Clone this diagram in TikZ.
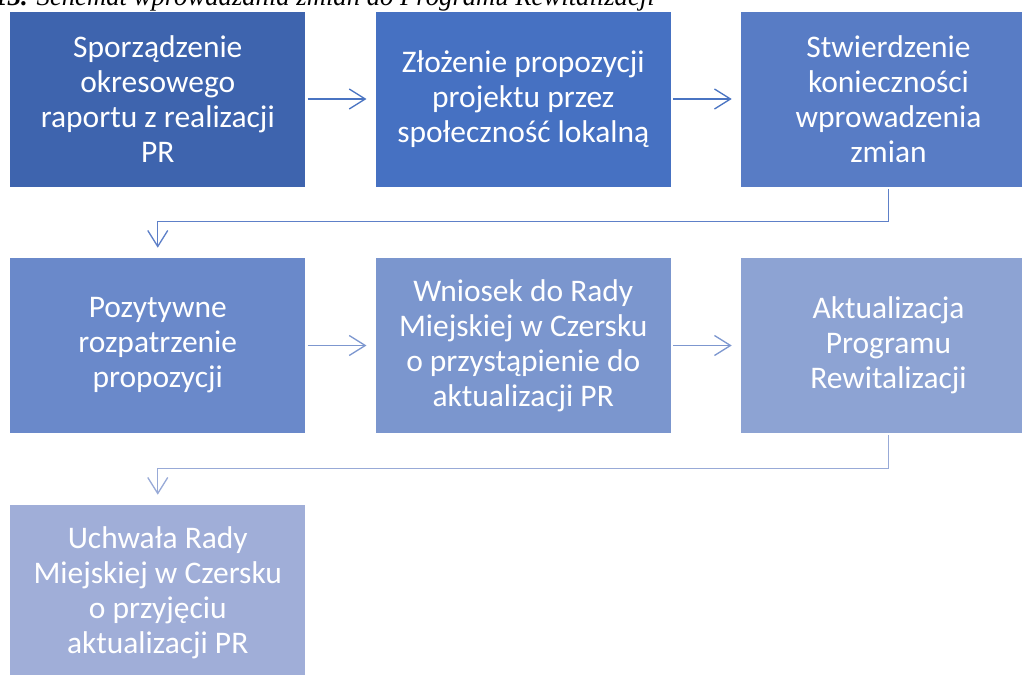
\documentclass[tikz,border=0pt]{standalone}
\usepackage{fontspec}
\setmainfont{Carlito}
\newfontfamily\titlefont{Liberation Serif}
\usetikzlibrary{arrows.meta}
\definecolor{bA}{HTML}{3E64AE}
\definecolor{bB}{HTML}{4671C2}
\definecolor{bC}{HTML}{587CC5}
\definecolor{bD}{HTML}{6A89CA}
\definecolor{bE}{HTML}{7B96CE}
\definecolor{bF}{HTML}{8DA3D3}
\definecolor{bG}{HTML}{A0AED8}
\definecolor{cA}{HTML}{4A74C2}
\definecolor{cB}{HTML}{5E80C8}
\definecolor{cC}{HTML}{7D97CF}
\definecolor{cD}{HTML}{98AAD7}
\begin{document}
\begin{tikzpicture}[x=0.75pt,y=-0.75pt,
  box/.style={minimum width=221.25pt, minimum height=131.25pt, inner sep=0pt,
    align=center, text=white, font=\fontsize{23.6}{26.2}\selectfont, draw=none},
  conn/.style={line width=1pt, -{Straight Barb[length=12pt,width=15pt,line width=1pt]}},
  hconn/.style={conn, shorten <=1.5pt, shorten >=6.75pt},
  vconn/.style={conn, shorten <=1.5pt, shorten >=7.5pt}]
\useasboundingbox (0,0) rectangle (1022,675);
\node[anchor=base east, inner sep=0pt, font=\titlefont\itshape\fontsize{20}{24}\selectfont] (title) at (655,5)
  {\textbf{13.} Schemat wprowadzania zmian do Programu Rewitalizacji};
\node[box, fill=bA] (b1) at (157.75,99) {Sporządzenie\\okresowego\\raportu z realizacji\\PR};
\node[box, fill=bB] (b2) at (523.25,99) {Złożenie propozycji\\projektu przez\\społeczność lokalną};
\node[box, fill=bC] (b3) at (888.5,99) {Stwierdzenie\\konieczności\\wprowadzenia\\zmian};
\node[box, fill=bD] (b4) at (157.75,345.5) {Pozytywne\\rozpatrzenie\\propozycji};
\node[box, fill=bE] (b5) at (523.25,345.5) {Wniosek do Rady\\Miejskiej w Czersku\\o przystąpienie do\\aktualizacji PR};
\node[box, fill=bF] (b6) at (888.5,345.5) {Aktualizacja\\Programu\\Rewitalizacji};
\node[box, fill=bG] (b7) at (157.75,592.5) {Uchwała Rady\\Miejskiej w Czersku\\o przyjęciu\\aktualizacji PR};
\draw[hconn, cA] (b1) -- (b2);
\draw[hconn, cA] (b2) -- (b3);
\draw[vconn, cB] (b3.south) -- ++(0,35) -| (b4.north);
\draw[hconn, cC] (b4) -- (b5);
\draw[hconn, cC] (b5) -- (b6);
\draw[vconn, cD] (b6.south) -- ++(0,35) -| (b7.north);
\end{tikzpicture}
\end{document}
